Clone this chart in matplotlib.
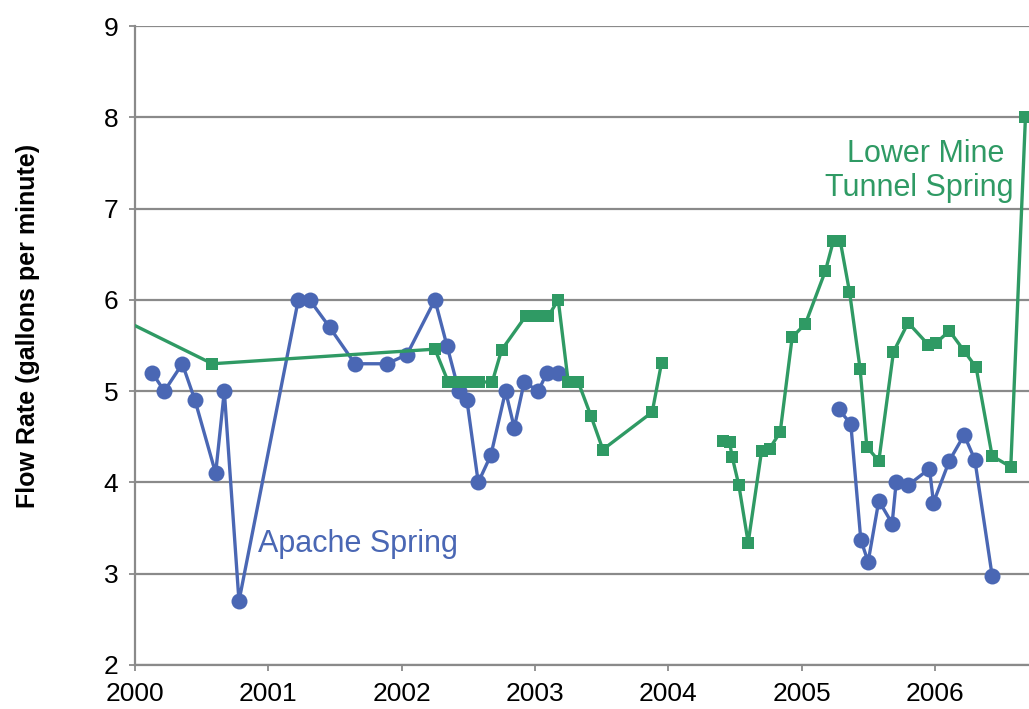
import numpy as np
import matplotlib
matplotlib.use("Agg")
import matplotlib.pyplot as plt

plt.rcParams["font.family"] = ["Liberation Sans", "DejaVu Sans"]

# Apache Spring flow (gallons per minute); NaN marks the break in sampling
apache_dates = [2000.13, 2000.22, 2000.355, 2000.45, 2000.605, 2000.67, 2000.78,
                2001.225, 2001.31, 2001.46, 2001.65, 2001.89, 2002.04, 2002.25,
                2002.34, 2002.43, 2002.49, 2002.575, 2002.67, 2002.78, 2002.845,
                2002.92, 2003.025, 2003.09, 2003.17, 2004.2,
                2005.28, 2005.37, 2005.445, 2005.50, 2005.58, 2005.68, 2005.71,
                2005.80, 2005.96, 2005.99, 2006.11, 2006.22, 2006.30, 2006.43]
apache_flow = [5.2, 5.0, 5.3, 4.9, 4.1, 5.0, 2.7,
               6.0, 6.0, 5.7, 5.3, 5.3, 5.4, 6.0,
               5.5, 5.0, 4.9, 4.0, 4.3, 5.0, 4.6,
               5.1, 5.0, 5.2, 5.2, np.nan,
               4.8, 4.64, 3.37, 3.13, 3.80, 3.55, 4.0,
               3.97, 4.15, 3.78, 4.24, 4.52, 4.25, 2.98]

# Lower Mine Tunnel Spring flow (gallons per minute)
tunnel_dates = [1999.9, 2000.58, 2002.25, 2002.35, 2002.41, 2002.47, 2002.53,
                2002.58, 2002.68, 2002.75, 2002.93, 2002.99, 2003.04, 2003.10,
                2003.175, 2003.25, 2003.325, 2003.42, 2003.51, 2003.88, 2003.95,
                2004.2,
                2004.41, 2004.46, 2004.48, 2004.53, 2004.60, 2004.70, 2004.76,
                2004.84, 2004.93, 2005.03, 2005.18, 2005.24, 2005.29, 2005.36,
                2005.44, 2005.49, 2005.58, 2005.69, 2005.80, 2005.95, 2006.01,
                2006.11, 2006.22, 2006.31, 2006.43, 2006.57, 2006.68]
tunnel_flow = [5.79, 5.30, 5.46, 5.1, 5.1, 5.1, 5.1,
               5.1, 5.1, 5.45, 5.82, 5.82, 5.82, 5.82,
               6.0, 5.1, 5.1, 4.73, 4.36, 4.77, 5.31,
               np.nan,
               4.45, 4.44, 4.28, 3.97, 3.34, 4.34, 4.37,
               4.55, 5.59, 5.74, 6.32, 6.65, 6.65, 6.09,
               5.24, 4.39, 4.235, 5.43, 5.75, 5.51, 5.53,
               5.66, 5.44, 5.26, 4.29, 4.17, 8.0]

year_ticks = [2000, 2001, 2002, 2003, 2004, 2005, 2006]
flow_ticks = [2, 3, 4, 5, 6, 7, 8, 9]

blue = "#4A67B4"
green = "#2F9A64"
grey = "#8A8A8A"

fig = plt.figure(figsize=(10.29, 7.09), dpi=100)
ax = fig.add_axes([135 / 1029, 44 / 709, 894 / 1029, 639 / 709])

ax.plot(apache_dates, apache_flow, color=blue, lw=2.4, marker="o",
        markersize=11.5, markeredgewidth=0, zorder=3)
ax.plot(tunnel_dates, tunnel_flow, color=green, lw=2.4, marker="s",
        markersize=8, markeredgewidth=0, zorder=4)

ax.set_xlim(2000, 2000 + 894 / 133.3)
ax.set_ylim(2, 9)
ax.set_xticks(year_ticks)
ax.set_xticklabels([str(y) for y in year_ticks])
ax.set_yticks(flow_ticks)

ax.grid(axis="y", color=grey, lw=1.6, zorder=0)
ax.set_axisbelow(True)
for side in ("top", "right"):
    ax.spines[side].set_visible(False)
for side in ("left", "bottom"):
    ax.spines[side].set_color(grey)
    ax.spines[side].set_linewidth(1.6)

ax.tick_params(axis="both", colors=grey, labelcolor="black", labelsize=19,
               length=4, width=1.3, direction="out")
ax.tick_params(axis="y", pad=8)
ax.tick_params(axis="x", pad=8)

ax.set_ylabel("Flow Rate (gallons per minute)", fontsize=18, fontweight="bold",
              va="center", ha="center")
ax.yaxis.set_label_coords(-0.12, 0.53)

ax.text(2000.923, 3.33, "Apache Spring", color=blue, fontsize=22,
        ha="left", va="center")
ax.text(2006.587, 7.41, "Lower Mine \nTunnel Spring", color=green, fontsize=22,
        ha="right", va="center", multialignment="right", linespacing=1.18)

fig.savefig("out.png", dpi=100)
